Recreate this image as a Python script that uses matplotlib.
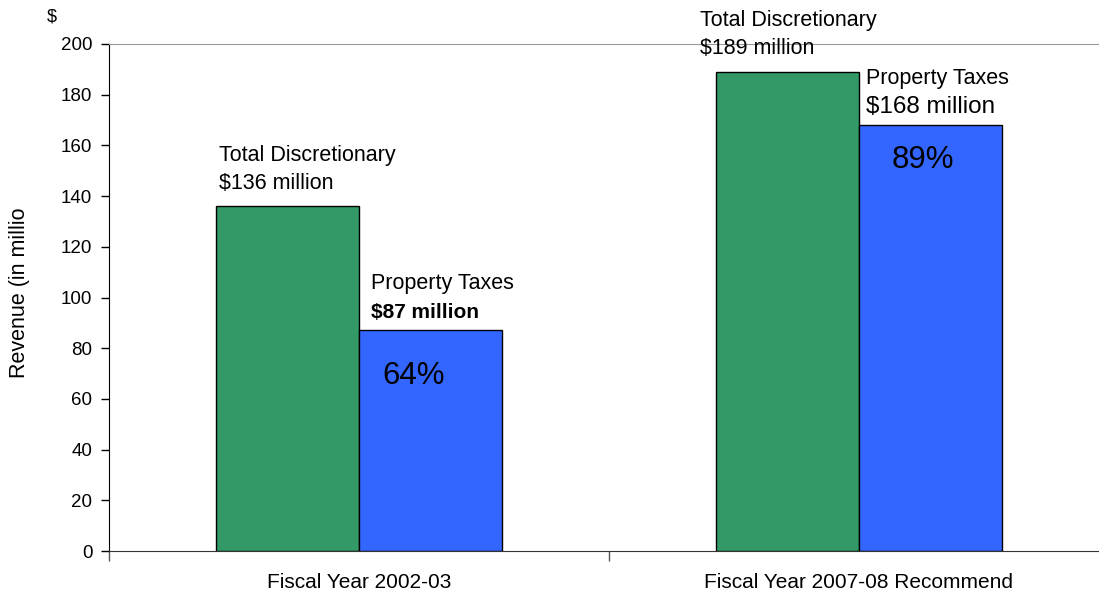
import numpy as np
import matplotlib.pyplot as plt

plt.rcParams['font.family'] = ['Liberation Sans', 'DejaVu Sans']

categories = ['Fiscal Year 2002-03', 'Fiscal Year 2007-08 Recommend']
total_discretionary = [136, 189]
property_taxes = [87, 168]
y_ticks = [0, 20, 40, 60, 80, 100, 120, 140, 160, 180, 200]

green = '#339966'
blue = '#3366FF'

fig = plt.figure(figsize=(10.99, 5.95), dpi=100)
# plot area runs past the right edge of the figure, as in the original export
ax = fig.add_axes([109 / 1099, 44 / 595, 1000 / 1099, 507 / 595])

x = np.arange(len(categories))
w = 0.286
ax.bar(x - w / 2, total_discretionary, w, color=green, edgecolor='black', linewidth=1)
ax.bar(x + w / 2, property_taxes, w, color=blue, edgecolor='black', linewidth=1)

ax.set_xlim(-0.5, len(categories) - 0.5)
ax.set_ylim(0, 200)
ax.set_yticks(y_ticks)
ax.tick_params(axis='y', direction='out', length=6, width=1, labelsize=13.5, pad=6)

# category labels centred, tick marks between categories
ax.set_xticks(x)
ax.set_xticklabels(categories, fontsize=15)
ax.tick_params(axis='x', which='major', length=0, pad=16)
ax.set_xticks(np.arange(-0.5, len(categories)), minor=True)
ax.tick_params(axis='x', which='minor', direction='out', length=7, width=1, color='#555555')

for side in ['top', 'right']:
    ax.spines[side].set_color('#999999')
ax.spines['left'].set_color('black')
ax.spines['bottom'].set_color('#333333')

fig.text(20 / 1099, 1 - 293 / 595, 'Revenue (in millio', rotation=90,
         ha='center', va='center', fontsize=15.5)
fig.text(52 / 1099, 1 - 17 / 595, '$', ha='center', va='center', fontsize=13)

# labels above the total bars
green_dx = [3, -16]
for i, v in enumerate(total_discretionary):
    left = x[i] - w
    ax.annotate('Total Discretionary', (left, v), xytext=(green_dx[i], 51),
                textcoords='offset pixels', ha='left', va='center', fontsize=15.5)
    ax.annotate(f'${v} million', (left, v), xytext=(green_dx[i], 23),
                textcoords='offset pixels', ha='left', va='center', fontsize=15.5)

# labels above the property tax bars
blue_dx = [12, 7]
blue_style = [dict(fontsize=15, fontweight='bold'), dict(fontsize=17.5)]
pct_dy = [-46, -35]
pct_dx = [-17, -8]
for i, v in enumerate(property_taxes):
    left = x[i]
    ax.annotate('Property Taxes', (left, v), xytext=(blue_dx[i], 47),
                textcoords='offset pixels', ha='left', va='center', fontsize=15.5)
    ax.annotate(f'${v} million', (left, v), xytext=(blue_dx[i], 18),
                textcoords='offset pixels', ha='left', va='center', **blue_style[i])
    pct = round(100 * v / total_discretionary[i])
    ax.annotate(f'{pct}%', (x[i] + w / 2, v), xytext=(pct_dx[i], pct_dy[i]),
                textcoords='offset pixels', ha='center', va='center', fontsize=22.5)

fig.savefig('out.png', dpi=100)
